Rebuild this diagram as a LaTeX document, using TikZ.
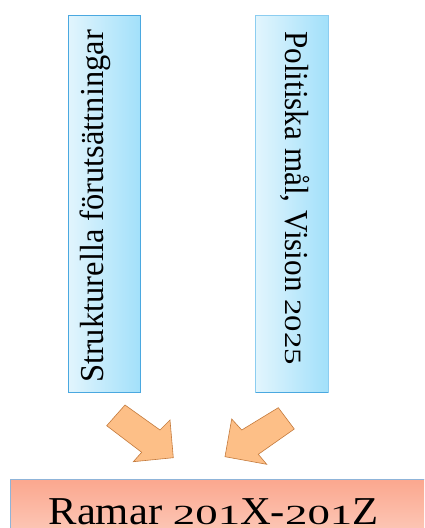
\documentclass[tikz,border=0pt]{standalone}
\usepackage{graphicx}
\usepackage{fontspec}
\setmainfont{Liberation Serif}
\definecolor{boxborder}{HTML}{4AA8E0}
\definecolor{boxborderb}{HTML}{8CCDF0}
\definecolor{boxlight}{HTML}{E2F5FD}
\definecolor{boxdark}{HTML}{A2E0FA}
\definecolor{arrfill}{HTML}{FDBF87}
\definecolor{arrdraw}{HTML}{C47A3C}
\definecolor{baseTop}{HTML}{FBA78E}
\definecolor{baseBot}{HTML}{FDD8CC}
\definecolor{baseborder}{HTML}{8FB4D9}
\newcommand{\osf}[1]{\scalebox{1.05}[0.7]{#1}}
\begin{document}
\begin{tikzpicture}[x=1pt,y=-1pt,
  pillar/.style={draw=boxborder, line width=0.9pt, left color=boxlight, right color=boxdark},
  blockarrow/.style={draw=arrdraw, line width=0.6pt, fill=arrfill, line join=miter},
  vtext/.style={inner sep=0pt, anchor=base, font=\fontsize{33.5}{40}\selectfont},
]
\clip (0,0) rectangle (424,528);
\fill[white] (0,0) rectangle (424,528);
% pillars
\path[pillar] (68,15) rectangle (140.5,392);
\path[pillar, draw=boxborderb] (255.5,15) rectangle (328,392);
\draw[boxborder, line width=0.9pt] (255.5,392) -- (328,392);
\node[vtext, rotate=90] (lefttext) at (103,206.5) {\scalebox{0.97}[1]{Strukturella förutsättningar}};
\node[vtext, rotate=-90] (righttext) at (285.5,198) {\scalebox{0.93}[1]{Politiska mål, Vision \osf{2025}}};
% base box
\path[draw=baseborder, line width=0.9pt, top color=baseTop, bottom color=baseBot] (10,479) rectangle (440,560);
\node[inner sep=0pt, anchor=base, font=\fontsize{39.5}{44}\selectfont] (base) at (213.5,524) {\scalebox{1.08}[1]{Ramar \osf{201}X-\osf{201}Z}};
% block arrows
\path[blockarrow] (106.7,425.7) -- (125,405) -- (160,430) -- (170,420) -- (173.3,457.7) -- (133.3,461.7) -- (141.7,452.3) -- cycle;
\path[blockarrow] (278.3,407.7) -- (294.3,429) -- (258.3,454.3) -- (266.7,464.3) -- (225,456.7) -- (231.7,419) -- (241.7,430) -- cycle;
\end{tikzpicture}
\end{document}
